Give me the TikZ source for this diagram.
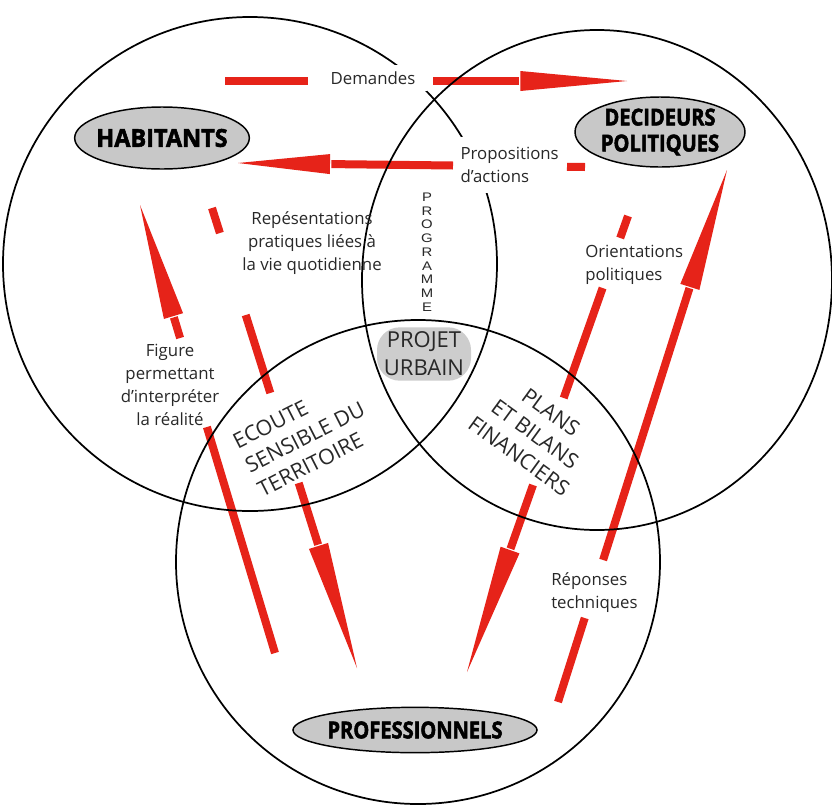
\documentclass[tikz,border=0pt]{standalone}
\usepackage{fontspec}
\setmainfont{Open Sans}
\newfontfamily\headfont[FakeStretch=0.86,FakeBold=2.2]{Open Sans}
\newfontfamily\headwide[FakeStretch=0.95,FakeBold=2.2]{Open Sans}
\newfontfamily\progfont[FakeStretch=1.2]{Liberation Sans}
\usetikzlibrary{calc,shapes.geometric}
\definecolor{flowred}{RGB}{230,35,25}
\definecolor{actorgray}{RGB}{200,200,200}
\definecolor{blobgray}{RGB}{205,205,205}
\definecolor{textgray}{RGB}{40,40,40}
% shaft from #1 to the base of a slender head whose tip is #2, head length #3
\newcommand{\redhead}[3]{%
  \path ($(#2)!#3!(#1)$) coordinate (#2-base);
  \path ($(#2-base)!7.5pt!90:(#2)$) coordinate (#2-l);
  \path ($(#2-base)!7.5pt!-90:(#2)$) coordinate (#2-r);
  \draw[flow] (#1) -- ($(#2-base)!-1pt!(#2)$);
  \fill[flowred] (#2) -- (#2-l) -- (#2-r) -- cycle;
}
\begin{document}
\begin{tikzpicture}[x=0.75pt, y=-0.75pt,
  ring/.style={draw=black, line width=1.3pt},
  actor/.style={ellipse, draw=black, line width=1.1pt, fill=actorgray, inner sep=0pt},
  actortxt/.style={font=\headfont\bfseries\fontsize{17.5}{19.5}\selectfont, align=center, inner sep=0pt, text=black},
  lbl/.style={font=\fontsize{12.6}{17.3}\selectfont, text=textgray, inner sep=0pt},
  zone/.style={font=\fontsize{16}{20.3}\selectfont, text=textgray, inner sep=0pt},
  flow/.style={draw=flowred, line width=6pt},
]
\fill[white] (0,0) rectangle (832,811);
\useasboundingbox (0,0) rectangle (832,811);

% ---------- red flows ----------
% Demandes
\coordinate (demA1) at (225,81); \coordinate (demA2) at (308,81);
\coordinate (demB1) at (433,81); \coordinate (demB2) at (627,81);
\draw[flow] (demA1) -- (demA2);
\redhead{demB1}{demB2}{80pt}
% Propositions d'actions
\coordinate (proA1) at (585,167); \coordinate (proA2) at (567,166.8);
\coordinate (proB1) at (453,165.5); \coordinate (proB2) at (238,163);
\draw[flow] (proA1) -- (proA2);
\redhead{proB1}{proB2}{69pt}
% Representations
\coordinate (repA1) at (212,208); \coordinate (repA2) at (219.9,233);
\coordinate (repB1) at (245.7,315); \coordinate (repB2) at (270.3,393);
\coordinate (repC1) at (298.7,483); \coordinate (repC2) at (357,668);
\draw[flow] (repA1) -- (repA2);
\draw[flow] (repB1) -- (repB2);
\redhead{repC1}{repC2}{96pt}
% Figure
\coordinate (figA1) at (275,653); \coordinate (figA2) at (206.9,427);
\coordinate (figB1) at (180.1,338); \coordinate (figB2) at (140,205);
\draw[flow] (figA1) -- (figA2);
\redhead{figB1}{figB2}{87pt}
% Orientations
\coordinate (oriA1) at (628,216); \coordinate (oriA2) at (620.2,238);
\coordinate (oriB1) at (602.6,288); \coordinate (oriB2) at (563.7,398);
\coordinate (oriC1) at (533,485); \coordinate (oriC2) at (467,672);
\draw[flow] (oriA1) -- (oriA2);
\draw[flow] (oriB1) -- (oriB2);
\redhead{oriC1}{oriC2}{97pt}
% Reponses
\coordinate (rpoA1) at (558,702); \coordinate (rpoA2) at (584.7,618);
\coordinate (rpoB1) at (603.1,560); \coordinate (rpoB2) at (727,170);
\draw[flow] (rpoA1) -- (rpoA2);
\redhead{rpoB1}{rpoB2}{92pt}

% ---------- circles ----------
\coordinate (cHab) at (250,264);
\coordinate (cDec) at (597,280);
\coordinate (cPro) at (418,562);
\draw[ring] (cHab) circle[radius=185.25pt];
\draw[ring] (cDec) ellipse[x radius=176.25pt, y radius=187.5pt];
\draw[ring] (cPro) circle[radius=181.5pt];

% ---------- actors ----------
\node[actor, minimum width=131pt, minimum height=46.5pt] (hab) at (162,138) {};
\node[actortxt, font=\headwide\bfseries\fontsize{18.5}{20}\selectfont] (habtxt) at (hab) {HABITANTS};
\node[actor, minimum width=127.5pt, minimum height=52.5pt] (dec) at (660,132) {};
\node[actortxt] (dectxt) at (dec) {DECIDEURS\\POLITIQUES};
\node[actor, minimum width=183pt, minimum height=34pt] (pro) at (415,730) {};
\node[actortxt] (protxt) at (pro) {PROFESSIONNELS};

% ---------- labels ----------
\node[lbl, fill=white, minimum width=81pt, minimum height=20pt] (demtxt) at (373,78) {Demandes};
\node[lbl, fill=white, align=left, anchor=west, inner xsep=4pt, inner ysep=8pt] (proptxt) at (455,165) {Propositions\\d'actions};
\node[lbl, align=center] (reptxt) at (312,243) {Repésentations\\pratiques liées à\\la vie quotidienne};
\node[lbl, align=center] (figtxt) at (170,385) {Figure\\permettant\\d'interpréter\\la réalité};
\node[lbl, align=left, anchor=west] (oritxt) at (585,265) {Orientations\\politiques};
\node[lbl, align=left, anchor=west] (rpotxt) at (551,593) {Réponses\\techniques};
\node[font=\progfont\fontsize{9.3}{10.3}\selectfont, align=center, inner sep=0pt, text=textgray] (progtxt) at (427,252) {P\\R\\O\\G\\R\\A\\M\\M\\E};

% ---------- zones ----------
\node[fill=blobgray, rounded corners=17pt, minimum width=70.5pt, minimum height=40pt] (blob) at (424,354) {};
\node[zone, align=center, font=\fontsize{16.5}{21}\selectfont] (projtxt) at (blob) {PROJET\\URBAIN};
\node[zone, align=left, rotate=27] (ecotxt) at (305,437) {ECOUTE\\SENSIBLE DU\\TERRITOIRE};
\node[zone, align=center, rotate=-36] (platxt) at (535,434) {PLANS\\ET BILANS\\FINANCIERS};
\end{tikzpicture}
\end{document}
